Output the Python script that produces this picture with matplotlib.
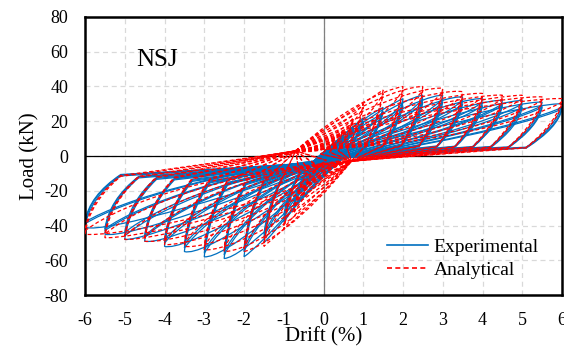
import matplotlib
matplotlib.use("Agg")
import matplotlib.pyplot as plt
from matplotlib.path import Path
from matplotlib.patches import PathPatch
from matplotlib.lines import Line2D

plt.rcParams['font.family'] = ['Liberation Serif', 'DejaVu Serif']
plt.rcParams['axes.unicode_minus'] = False

# drift amplitudes of the loading protocol (%)
drift_amp = [0.25, 0.5, 0.75, 1.0, 1.5, 2.0, 2.5, 3.0, 3.5, 4.0, 4.5, 5.0, 5.5, 6.0]

# experimental peak loads (kN), three cycles per amplitude
exp_pos_c1 = [6, 12, 17, 22, 28, 33, 35, 35, 34, 33, 32, 32, 31, 30]
exp_pos_c2 = [5, 11, 16, 20, 26, 31, 33, 33, 32, 31, 30, 30, 29, 28]
exp_pos_c3 = [5, 10, 15, 19, 25, 29, 31, 31, 30, 29, 29, 28, 28, 27]
exp_neg_c1 = [-10, -20, -30, -38, -50, -58, -59, -58, -55, -52, -49, -48, -45, -41]
exp_neg_c2 = [-9, -18, -28, -36, -47, -55, -57, -56, -53, -50, -47, -46, -43, -39]
exp_neg_c3 = [-8, -17, -26, -34, -45, -53, -55, -54, -51, -48, -46, -44, -42, -38]

# analytical peak loads (kN), two cycles per amplitude
ana_pos_c1 = [8, 15, 22, 30, 38, 40, 40, 39, 37, 36, 35, 35, 34, 33]
ana_pos_c2 = [7, 14, 20, 28, 36, 38, 38, 37, 35, 34, 33, 33, 32, 31]
ana_neg_c1 = [-10, -22, -33, -42, -52, -55, -55, -54, -52, -51, -49, -48, -47, -45]
ana_neg_c2 = [-9, -20, -31, -40, -50, -53, -53, -52, -50, -49, -47, -46, -45, -43]

C3, C4 = Path.CURVE3, Path.CURVE4


def loading(start, prev, tip, first, s):
    (x0, y0), (xp, yp), (d, f) = start, prev, tip
    if first:
        # first cycle: back onto the envelope through the previous peak
        pts = [(xp * s['e1'], yp * s['e2']), (xp, yp), (d, f)]
    else:
        # repeated cycle: pinched, soft then stiffening towards the peak
        pts = [(x0 + (d - x0) * s['p1'], f * s['p2']),
               (x0 + (d - x0) * s['p3'], f * s['p4']), (d, f)]
    return pts, [C4] * 3


def unloading(tip, end, s):
    # fast drop to a knee, then a soft branch towards the pinching zone
    (d, f), (xe, ye) = tip, end
    sgn = 1 if d > 0 else -1
    kx = d - sgn * (s['u1'] * abs(d) + 0.3)
    ky = f * (s['u2p'] if d > 0 else s['u2n'])
    pts = [(d - sgn * 0.1, f * 0.6), (kx, ky),
           (kx + (xe - kx) * 0.4, ky + (ye - ky) * 0.35), (xe, ye)]
    return pts, [C3, C3, C3, C3]


def cycle_path(k, pos, neg, first, s):
    d = drift_amp[k]
    pd = drift_amp[k - 1] if k > 0 else d * 0.5
    pp = pos[k - 1] if k > 0 else pos[k] * 0.5
    pn = neg[k - 1] if k > 0 else neg[k] * 0.5
    a, b = s['start'], s['rev']
    verts, codes = [a], [Path.MOVETO]
    for pts, cc in (loading(a, (pd, pp), (d, pos[k]), first, s),
                    unloading((d, pos[k]), b, s),
                    loading(b, (-pd, pn), (-d, neg[k]), first, s),
                    unloading((-d, neg[k]), a, s)):
        verts += pts
        codes += cc
    return Path(verts, codes)


exp_style = dict(start=(-0.3, -4), rev=(0.5, -1), e1=0.35, e2=0.45,
                 p1=0.45, p2=0.2, p3=0.85, p4=0.65, u1=0.1, u2p=0.17, u2n=0.28)
ana_style = dict(start=(-0.7, 3), rev=(0.7, -3), e1=0.3, e2=0.7,
                 p1=0.5, p2=0.2, p3=0.85, p4=0.6, u1=0.1, u2p=0.15, u2n=0.26)

fig = plt.figure(figsize=(5.64, 3.49), dpi=100)
ax = fig.add_axes([0.1507, 0.1547, 0.8458, 0.7966])

ax.axhline(0, color='black', lw=0.9, zorder=1)
ax.axvline(0, color='#808080', lw=0.9, zorder=1)

blue = '#0070C0'
red = '#FF0000'
exp_cycles = [(exp_pos_c1, exp_neg_c1, True), (exp_pos_c2, exp_neg_c2, False),
              (exp_pos_c3, exp_neg_c3, False)]
ana_cycles = [(ana_pos_c1, ana_neg_c1, True), (ana_pos_c2, ana_neg_c2, False)]
for pos, neg, first in exp_cycles:
    for k in range(len(drift_amp)):
        ax.add_patch(PathPatch(cycle_path(k, pos, neg, first, exp_style), fill=False,
                               edgecolor=blue, lw=0.9, zorder=2))
for pos, neg, first in ana_cycles:
    for k in range(len(drift_amp)):
        ax.add_patch(PathPatch(cycle_path(k, pos, neg, first, ana_style), fill=False,
                               edgecolor=red, lw=0.9, ls=(0, (3, 2)), zorder=3))

ax.set_xlim(-6, 6)
ax.set_ylim(-80, 80)
ax.set_xticks(range(-6, 7))
ax.set_yticks(range(-80, 81, 20))
ax.grid(True, color='#d9d9d9', ls=(0, (4, 3)), lw=0.9)
ax.set_axisbelow(True)
ax.tick_params(length=0, labelsize=13, pad=12)
for sp in ax.spines.values():
    sp.set_linewidth(1.8)
ax.set_xlabel('Drift (%)', fontsize=15, labelpad=-1)
ax.set_ylabel('Load (kN)', fontsize=15, labelpad=4)
ax.text(-4.7, 52, 'NSJ', fontsize=18, va='baseline')

handles = [Line2D([], [], color=blue, lw=1.2),
           Line2D([], [], color=red, lw=1.2, ls=(0, (3, 2)))]
ax.legend(handles, ['Experimental', 'Analytical'], loc='upper left',
          bbox_to_anchor=(0.633, 0.203), frameon=False, fontsize=14,
          handlelength=2.1, handletextpad=0.3, labelspacing=0.25,
          borderpad=0, borderaxespad=0)

fig.savefig('out.png', dpi=100)
